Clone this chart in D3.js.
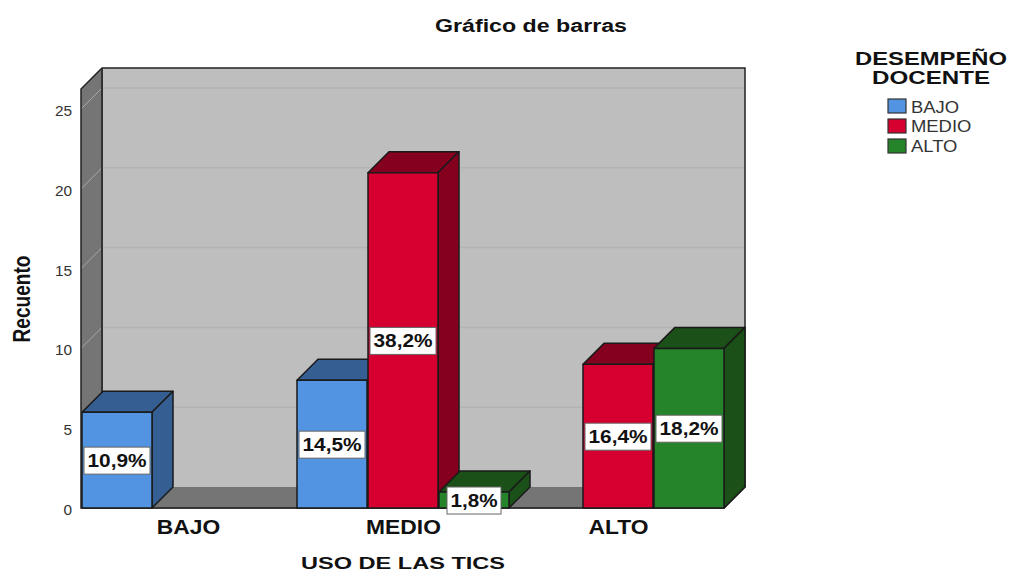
<!DOCTYPE html>
<html>
<head>
<meta charset="utf-8">
<script src="https://cdn.jsdelivr.net/npm/d3@7"></script>
<style>
  body { margin: 0; background: #fff; }
  text { font-family: "Liberation Sans", Arial, sans-serif; }
</style>
</head>
<body>
<div class="chart"></div>
<script>
// data
var categories = ["BAJO", "MEDIO", "ALTO"];
var seriesNames = ["BAJO", "MEDIO", "ALTO"];
var bajoCounts = [6, 8, 0];
var medioCounts = [0, 21, 9];
var altoCounts = [0, 1, 10];
var bajoLabels = ["10,9%", "14,5%", ""];
var medioLabels = ["", "38,2%", "16,4%"];
var altoLabels = ["", "1,8%", "18,2%"];
var yTicks = [0, 5, 10, 15, 20, 25];

var svgWidth = 1009;
var svgHeight = 573;
var depth = 21;

var frontColors = { BAJO: "#5294e2", MEDIO: "#d5002f", ALTO: "#258329" };
var topColors = { BAJO: "#355f93", MEDIO: "#85001f", ALTO: "#1b5018" };

var svg = d3.select(".chart").append("svg")
  .attr("width", svgWidth)
  .attr("height", svgHeight)
  .style("display", "block");

var y = d3.scaleLinear().domain([0, 25]).range([508, 109]);
var x0 = d3.scaleBand().domain(categories).range([82, 727]);
var x1 = d3.scaleBand().domain(seriesNames).range([0, x0.bandwidth() - 2]);

var boxLeft = 81, boxRight = 724, boxTop = 89, boxBottom = y(0);

function poly(points, fill, stroke, sw) {
  return svg.append("polygon")
    .attr("points", points.map(p => p.join(",")).join(" "))
    .attr("fill", fill)
    .attr("stroke", stroke || "none")
    .attr("stroke-width", sw || 0)
    .attr("stroke-linejoin", "round");
}

// text squeezed to the measured width, the original image is stretched
function label(str, x, yy, size, width, opts) {
  opts = opts || {};
  return svg.append("text")
    .attr("x", x)
    .attr("y", yy)
    .attr("text-anchor", opts.anchor || "middle")
    .attr("font-size", size)
    .attr("font-weight", opts.weight || "bold")
    .attr("fill", opts.fill || "#111")
    .attr("textLength", width)
    .attr("lengthAdjust", "spacingAndGlyphs")
    .text(str);
}

// same stretch for axis and legend text that is already placed
function widen(selection, factor) {
  selection.each(function() {
    d3.select(this)
      .attr("textLength", this.getComputedTextLength() * factor)
      .attr("lengthAdjust", "spacingAndGlyphs");
  });
}

// walls and floor
poly([[boxLeft + depth, boxTop - depth], [boxRight + depth, boxTop - depth], [boxRight + depth, boxBottom - depth], [boxLeft + depth, boxBottom - depth]], "#bebebe");
poly([[boxLeft, boxTop], [boxLeft + depth, boxTop - depth], [boxLeft + depth, boxBottom - depth], [boxLeft, boxBottom]], "#757575");
poly([[boxLeft, boxBottom], [boxLeft + depth, boxBottom - depth], [boxRight + depth, boxBottom - depth], [boxRight, boxBottom]], "#757575");

// gridlines, on the back wall and down the left wall
yTicks.filter(d => d > 0).forEach(function(d) {
  svg.append("line")
    .attr("x1", boxLeft + depth).attr("x2", boxRight + depth)
    .attr("y1", y(d) - depth).attr("y2", y(d) - depth)
    .attr("stroke", "#b3b3b3").attr("stroke-width", 1.5);
  svg.append("line")
    .attr("x1", boxLeft).attr("x2", boxLeft + depth)
    .attr("y1", y(d)).attr("y2", y(d) - depth)
    .attr("stroke", "#a8a8a8").attr("stroke-width", 1);
});

// outlines of the box
svg.append("path")
  .attr("d", `M${boxLeft},${boxBottom}V${boxTop}L${boxLeft + depth},${boxTop - depth}H${boxRight + depth}V${boxBottom - depth}L${boxRight},${boxBottom}Z`)
  .attr("fill", "none").attr("stroke", "#222").attr("stroke-width", 1.5);
svg.append("line")
  .attr("x1", boxLeft + depth).attr("x2", boxLeft + depth)
  .attr("y1", boxTop - depth).attr("y2", boxBottom - depth)
  .attr("stroke", "#333").attr("stroke-width", 2);
svg.append("line")
  .attr("x1", boxLeft).attr("x2", boxRight)
  .attr("y1", boxBottom).attr("y2", boxBottom)
  .attr("stroke", "#333").attr("stroke-width", 1.5);

// bars, drawn left to right so the next bar covers the side of the last one
var allCounts = { BAJO: bajoCounts, MEDIO: medioCounts, ALTO: altoCounts };
var allLabels = { BAJO: bajoLabels, MEDIO: medioLabels, ALTO: altoLabels };
var boxes = [];

categories.forEach(function(cat, i) {
  seriesNames.forEach(function(name) {
    var value = allCounts[name][i];
    if (!value) return;
    var xa = x0(cat) + x1(name);
    var xb = xa + x1.bandwidth() - 1;
    var yt = y(value);
    var yb = y(0);
    poly([[xa, yt], [xa + depth, yt - depth], [xb + depth, yt - depth], [xb, yt]], topColors[name], "#1a1a1a", 1.5);
    poly([[xb, yt], [xb + depth, yt - depth], [xb + depth, yb - depth], [xb, yb]], topColors[name], "#1a1a1a", 1.5);
    poly([[xa, yt], [xb, yt], [xb, yb], [xa, yb]], frontColors[name], "#1a1a1a", 1.5);
    boxes.push({ text: allLabels[name][i], cx: (xa + xb) / 2, cy: (yt + yb) / 2 });
  });
});

// percent labels on top of everything
boxes.forEach(function(b) {
  var w = b.text.length > 4 ? 66 : 54;
  var h = 27;
  svg.append("rect")
    .attr("x", b.cx - w / 2).attr("y", b.cy - h / 2 + 0.5)
    .attr("width", w).attr("height", h)
    .attr("fill", "#fff").attr("stroke", "#666").attr("stroke-width", 1);
  label(b.text, b.cx, b.cy + 7, 18, w - 7);
});

// y axis
var yAxis = d3.axisLeft(y).tickValues(yTicks).tickSize(0).tickPadding(9);
var yAxisG = svg.append("g")
  .attr("transform", `translate(${boxLeft},2)`)
  .call(yAxis);
yAxisG.select(".domain").remove();
yAxisG.selectAll("text")
  .attr("font-size", 14)
  .attr("fill", "#333")
  .style("font-family", '"Liberation Sans", Arial, sans-serif')
  .call(widen, 1.1);

// x axis
var xAxis = d3.axisBottom(x0).tickSize(0).tickPadding(12);
var xAxisG = svg.append("g")
  .attr("transform", `translate(-1,${boxBottom})`)
  .call(xAxis);
xAxisG.select(".domain").remove();
xAxisG.selectAll("text")
  .attr("font-size", 19.5)
  .attr("font-weight", "bold")
  .attr("fill", "#111")
  .style("font-family", '"Liberation Sans", Arial, sans-serif')
  .call(widen, 1.17);

// titles
label("Gráfico de barras", 531, 32, 18, 192);
label("USO DE LAS TICS", 403, 569.3, 17, 204);
label("Recuento", 0, 0, 23, 87)
  .attr("transform", "translate(29.5,299) rotate(-90)");

// legend
label("DESEMPEÑO", 931, 65, 18, 152);
label("DOCENTE", 931, 84, 18, 118);
seriesNames.forEach(function(name, i) {
  svg.append("rect")
    .attr("x", 888).attr("y", 99 + i * 20)
    .attr("width", 18).attr("height", 14)
    .attr("fill", frontColors[name])
    .attr("stroke", "#333").attr("stroke-width", 1.2);
  svg.append("text")
    .attr("x", 911).attr("y", 112.5 + i * 19.7)
    .attr("font-size", 16)
    .attr("fill", "#333")
    .text(name)
    .call(widen, 1.15);
});
</script>
</body>
</html>
